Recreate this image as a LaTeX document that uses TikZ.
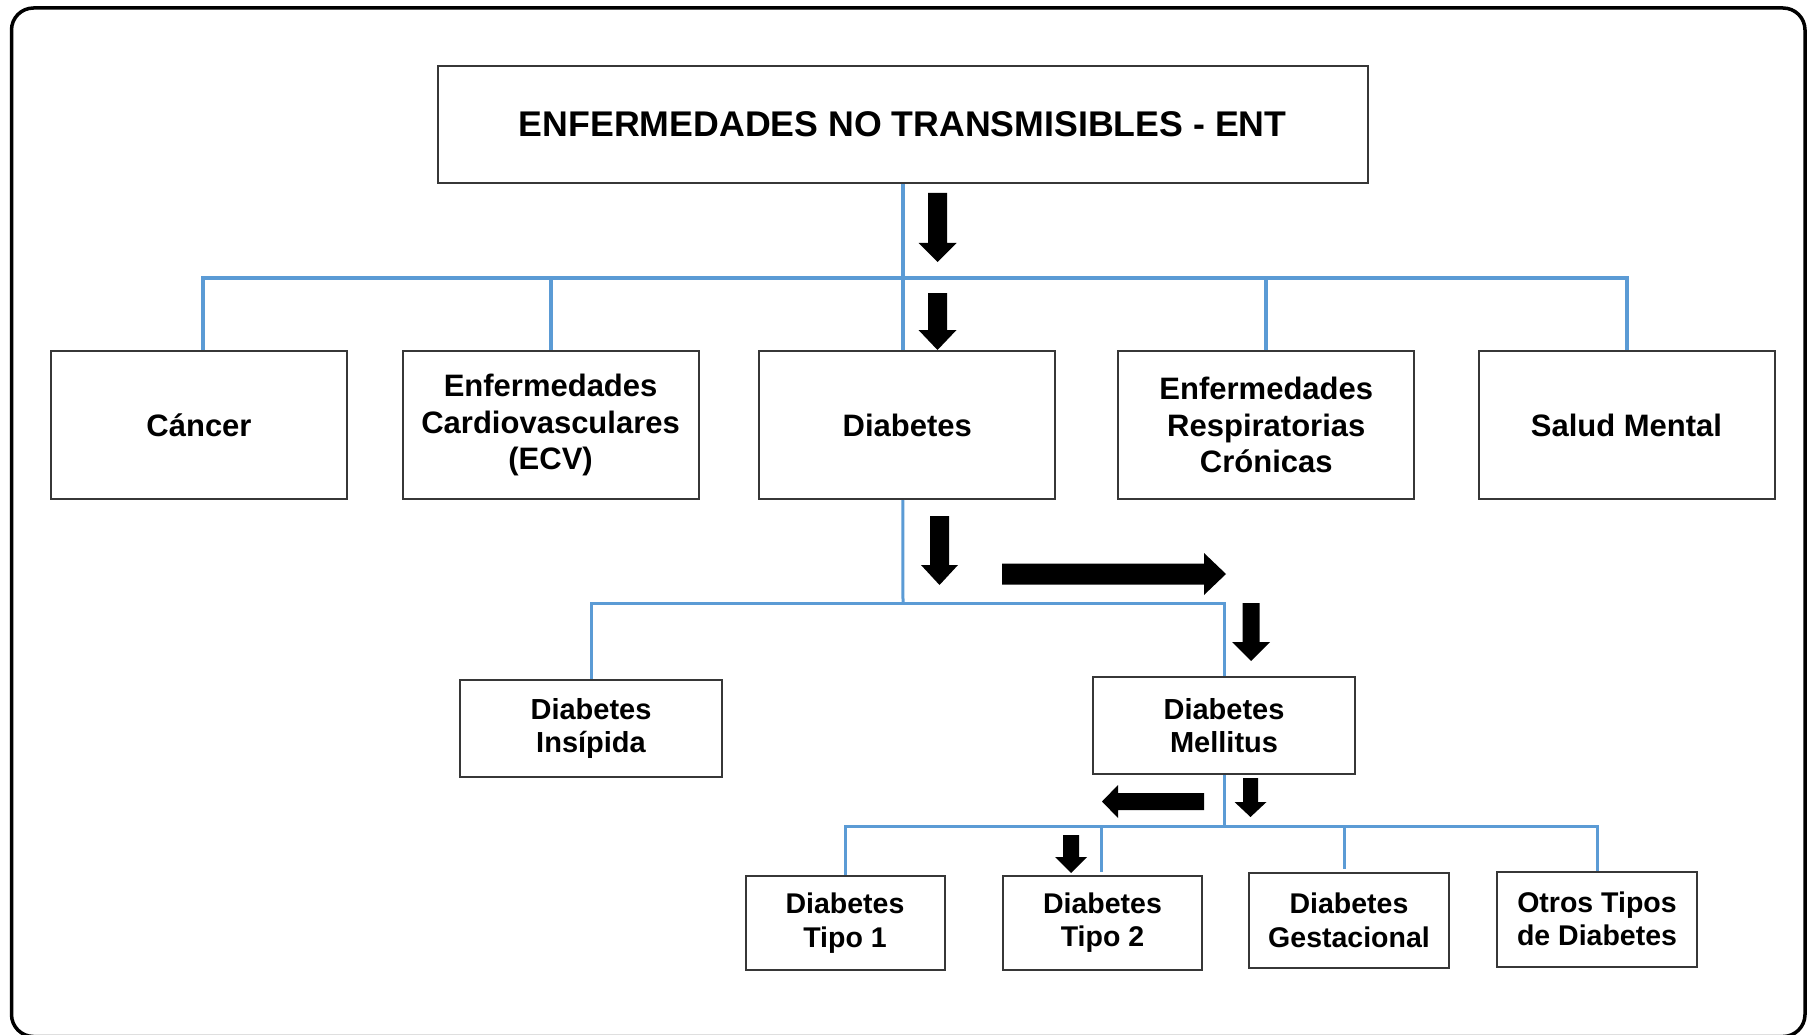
\documentclass[tikz,border=0pt]{standalone}
\usepackage{fontspec}
\setmainfont{Liberation Sans}
\definecolor{lineblue}{RGB}{91,155,213}
\definecolor{boxline}{RGB}{55,55,55}
% vertical block arrow: x, ytop, yhead, ytip, shaft half, head half
\newcommand\blkdown[6]{\fill[black] (#1-#5,#2) -- (#1+#5,#2) -- (#1+#5,#3) -- (#1+#6,#3) -- (#1,#4) -- (#1-#6,#3) -- (#1-#5,#3) -- cycle;}
% horizontal block arrow: y, xtail, xhead, xtip, shaft half, head half
\newcommand\blkhoriz[6]{\fill[black] (#2,#1-#5) -- (#3,#1-#5) -- (#3,#1-#6) -- (#4,#1) -- (#3,#1+#6) -- (#3,#1+#5) -- (#2,#1+#5) -- cycle;}
\begin{document}
\begin{tikzpicture}[x=1pt,y=-1pt,
  box/.style={draw=boxline,line width=2pt,fill=white,inner sep=0pt,align=center,font=\bfseries},
  bigbox/.style={box,minimum width=296pt,minimum height=148pt,font=\fontsize{31}{36.5}\selectfont\bfseries},
  midbox/.style={box,minimum width=262pt,minimum height=97pt,font=\fontsize{29}{33.5}\selectfont\bfseries},
  smallbox/.style={box,minimum width=199pt,minimum height=94pt,font=\fontsize{28.5}{33.5}\selectfont\bfseries},
  blthick/.style={draw=lineblue,line width=4pt},
  blthin/.style={draw=lineblue,line width=3pt}]
\useasboundingbox (0,0) rectangle (1810,1035);
\draw[line width=3.5pt,rounded corners=22pt] (11.5,8) rectangle (1805,1036.5);

% nodes
\node[box,minimum width=930.5pt,minimum height=117.7pt,font=\fontsize{35.7}{41}\selectfont\bfseries] (ent) at (902.75,124.5) {ENFERMEDADES NO TRANSMISIBLES - ENT};
\node[bigbox] (cancer) at (199,425) {Cáncer};
\node[bigbox] (ecv) at (550.6,425) {Enfermedades\\Cardiovasculares\\(ECV)};
\node[bigbox] (diab) at (907.3,425) {Diabetes};
\node[bigbox] (resp) at (1266.3,425) {Enfermedades\\Respiratorias\\Crónicas};
\node[bigbox] (salud) at (1626.5,425) {Salud Mental};
\node[midbox] (insip) at (591,728.5) {Diabetes\\Insípida};
\node[midbox] (mell) at (1224,725.5) {Diabetes\\Mellitus};
\node[smallbox] (t1) at (845,923) {Diabetes\\Tipo 1};
\node[smallbox] (t2) at (1102.5,922.5) {Diabetes\\Tipo 2};
\node[smallbox,minimum width=200pt,minimum height=95pt] (gest) at (1349,920.5) {Diabetes\\Gestacional};
\node[smallbox,minimum width=200pt,minimum height=95pt] (otros) at (1597,919) {Otros Tipos\\de Diabetes};

% hubs
\coordinate (h1) at (903,278);
\coordinate (h2) at (903,603);
\coordinate (h3) at (1224,826);

% level 1 connectors
\draw[blthick] (ent.south) -- (ent.south |- diab.north);
\draw[blthick] (h1) -| ([xshift=4pt]cancer.north);
\draw[blthick] (h1) -| (ecv.north);
\draw[blthick] (h1) -| (resp.north);
\draw[blthick] (h1) -| (salud.north);

% level 2 connectors
\draw[blthin] (ent.south |- diab.south) -- (h2);
\draw[blthin] (h2) -| (insip.north);
\draw[blthin] (h2) -| (mell.north);

% level 3 connectors
\draw[blthin] (mell.south) -- (h3);
\draw[blthin] (h3) -| (t1.north);
\draw[blthin] (h3) -| ([xshift=-1.5pt,yshift=3pt]t2.north);
\draw[blthin] (h3) -| ([xshift=-5pt,yshift=3pt]gest.north);
\draw[blthin] (h3) -| (otros.north);

% black block arrows
\blkdown{937.5}{193}{243}{262}{9.5}{19}
\blkdown{937.5}{293}{330}{350}{9.5}{19}
\blkdown{939.5}{516}{565}{585}{9.5}{18.5}
\blkhoriz{574}{1002}{1204}{1226}{10.5}{21}
\blkdown{1251}{603}{642}{661}{8.5}{19}
\blkhoriz{801.5}{1204}{1118}{1102}{8.5}{16.5}
\blkdown{1250.5}{778}{802}{817}{7.5}{16}
\blkdown{1071}{835}{857}{873}{8}{16}
\end{tikzpicture}
\end{document}
